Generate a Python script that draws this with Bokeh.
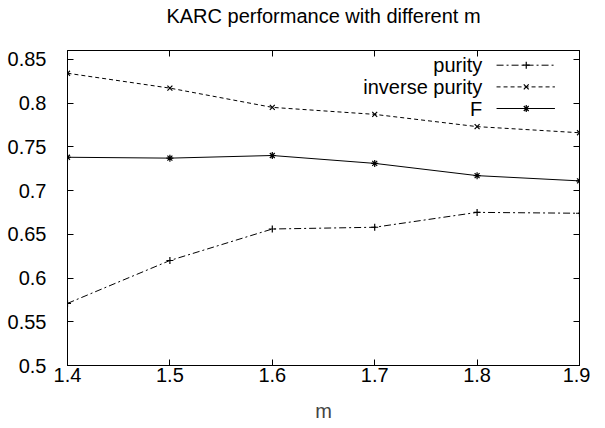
from bokeh.plotting import figure
from bokeh.models import LinearAxis, FixedTicker, Label, Range1d
from bokeh.embed import file_html
from bokeh.resources import INLINE

# ---- data ----
m_values = [1.4, 1.5, 1.6, 1.7, 1.8, 1.9]
purity = [0.571, 0.620, 0.656, 0.658, 0.675, 0.674]
inverse_purity = [0.834, 0.817, 0.795, 0.787, 0.773, 0.766]
f_measure = [0.738, 0.737, 0.740, 0.731, 0.717, 0.711]

x_ticks = [1.4, 1.5, 1.6, 1.7, 1.8, 1.9]
y_ticks = [0.5, 0.55, 0.6, 0.65, 0.7, 0.75, 0.8, 0.85]
y_tick_labels = ["0.5", "0.55", "0.6", "0.65", "0.7", "0.75", "0.8", "0.85"]

series_names = ["purity", "inverse purity", "F"]
title_text = "KARC performance with different m"
x_label = "m"

FONT = "Liberation Sans"
FS = "20px"

p = figure(width=590, height=426, output_backend="svg", toolbar_location=None,
           x_range=Range1d(1.4, 1.9), y_range=Range1d(0.5, 0.86),
           min_border_left=67, min_border_right=11, min_border_top=50, min_border_bottom=61)

p.xgrid.visible = False
p.ygrid.visible = False
p.outline_line_color = "black"
p.outline_line_width = 1
p.background_fill_color = "white"
p.border_fill_color = "white"

def style_axis(ax, show_labels):
    ax.axis_line_color = "black"
    ax.axis_line_width = 1
    ax.major_tick_in = 6
    ax.major_tick_out = 0
    ax.minor_tick_line_color = None
    ax.major_tick_line_color = "black"
    ax.major_label_text_font = FONT
    if show_labels:
        ax.major_label_text_font_size = FS
        ax.major_label_text_color = "black"
    else:
        ax.major_label_text_font_size = "0px"
        ax.major_label_text_color = None

xa = p.xaxis[0]
xa.ticker = FixedTicker(ticks=x_ticks)
style_axis(xa, True)
xa.major_label_standoff = 2
xa.axis_label = x_label
xa.axis_label_text_font = FONT
xa.axis_label_text_font_size = FS
xa.axis_label_text_font_style = "normal"
xa.axis_label_standoff = 15

ya = p.yaxis[0]
ya.ticker = FixedTicker(ticks=y_ticks)
ya.major_label_overrides = {t: s for t, s in zip(y_ticks, y_tick_labels)}
style_axis(ya, True)
ya.major_label_standoff = 21

# mirrored ticks on top; the chart title is carried as this axis' label
top = LinearAxis(ticker=FixedTicker(ticks=x_ticks))
style_axis(top, False)
top.axis_label = title_text
top.axis_label_text_font = FONT
top.axis_label_text_font_size = "20px"
top.axis_label_text_font_style = "normal"
top.axis_label_text_color = "black"
top.axis_label_standoff = 24
p.add_layout(top, "above")

right = LinearAxis(ticker=FixedTicker(ticks=y_ticks))
style_axis(right, False)
p.add_layout(right, "right")

dashes = ["7 3 2 3", "4 3", "solid"]
markers = ["cross", "x", "asterisk"]
series = [purity, inverse_purity, f_measure]

for vals, dash, mk in zip(series, dashes, markers):
    p.line(m_values, vals, line_color="black", line_width=1, line_dash=dash)
    p.scatter(m_values, vals, marker=mk, size=7, line_color="black", line_width=1.2)

# ---- legend (gnuplot style: label right-aligned, sample to its right) ----
leg_x0, leg_x1, leg_xm = 1.819, 1.876, 1.848
leg_rows = [0.8432, 0.8184, 0.7937]
for name, dash, mk, yy in zip(series_names, dashes, markers, leg_rows):
    p.line([leg_x0, leg_x1], [yy, yy], line_color="black", line_width=1, line_dash=dash)
    p.scatter([leg_xm], [yy], marker=mk, size=7, line_color="black", line_width=1.2)
    p.add_layout(Label(x=1.805, y=yy, text=name, text_align="right", text_baseline="middle",
                       text_font=FONT, text_font_size=FS, text_color="black"))

open("out.html", "w").write(file_html(p, INLINE))
